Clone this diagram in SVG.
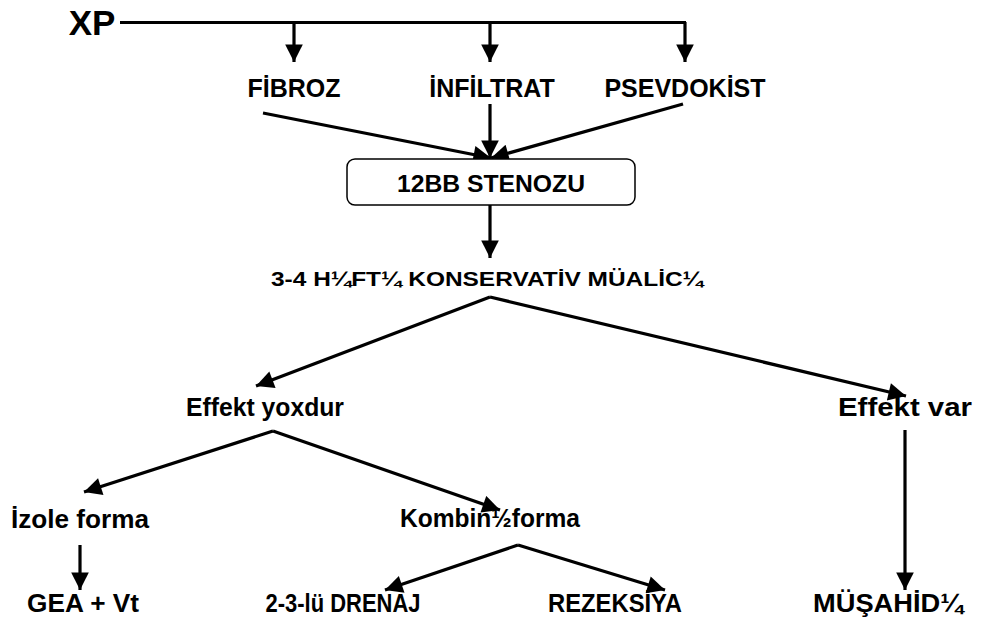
<svg xmlns="http://www.w3.org/2000/svg" width="981" height="628" viewBox="0 0 981 628">
<style>
text{font-family:"Liberation Sans",Arial,sans-serif;font-weight:bold;fill:#000;text-anchor:middle}
.l{font-size:25px}
.b{font-size:26px}
.c{stroke:#000;stroke-width:3.2;fill:none}
</style>
<defs>
<marker id="a" viewBox="0 0 10 10" refX="10" refY="5" markerWidth="6.5" markerHeight="5.5" markerUnits="strokeWidth" orient="auto"><path d="M0,0 L10,5 L0,10 z" fill="#000"/></marker>
</defs>
<rect width="981" height="628" fill="#fff"/>
<g id="connectors">
<path class="c" d="M120,22.5 H686"/>
<path class="c" d="M294,22 V62" marker-end="url(#a)"/>
<path class="c" d="M490,22 V62" marker-end="url(#a)"/>
<path class="c" d="M685,22 V62" marker-end="url(#a)"/>
<path class="c" d="M263,113 L491,158" marker-end="url(#a)"/>
<path class="c" d="M490,104 V158" marker-end="url(#a)"/>
<path class="c" d="M683,104 L491,158" marker-end="url(#a)"/>
<path class="c" d="M490,205 V258" marker-end="url(#a)"/>
<path class="c" d="M490,297 L256,386" marker-end="url(#a)"/>
<path class="c" d="M490,297 L906,396" marker-end="url(#a)"/>
<path class="c" d="M273,431 L84,492" marker-end="url(#a)"/>
<path class="c" d="M273,431 L500,510" marker-end="url(#a)"/>
<path class="c" d="M80,545 V590" marker-end="url(#a)"/>
<path class="c" d="M518,545 L385,590" marker-end="url(#a)"/>
<path class="c" d="M518,545 L665,590" marker-end="url(#a)"/>
<path class="c" d="M905,430 V590" marker-end="url(#a)"/>
</g>
<g id="xp"><text x="92" y="35" style="font-size:35px">XP</text></g>
<g id="fibroz"><text class="l" x="294" y="97">FİBROZ</text></g>
<g id="infiltrat"><text class="l" x="492" y="97">İNFİLTRAT</text></g>
<g id="psevdokist"><text class="l" x="685" y="97">PSEVDOKİST</text></g>
<g id="stenoz"><rect x="347" y="159" width="288" height="46" rx="8" fill="#fff" stroke="#000" stroke-width="1.5"/><text x="491" y="192" style="font-size:24px" textLength="188" lengthAdjust="spacingAndGlyphs">12BB STENOZU</text></g>
<g id="konservativ"><text x="487" y="286" style="font-size:20px" textLength="432" lengthAdjust="spacingAndGlyphs">3-4 H¼FT¼ KONSERVATİV MÜALİC¼</text></g>
<g id="yoxdur"><text class="l" x="265" y="416" textLength="158" lengthAdjust="spacingAndGlyphs">Effekt yoxdur</text></g>
<g id="var"><text class="l" x="905" y="416" textLength="134" lengthAdjust="spacingAndGlyphs">Effekt var</text></g>
<g id="izole"><text class="b" x="80" y="528" textLength="138" lengthAdjust="spacingAndGlyphs">İzole forma</text></g>
<g id="kombin"><text class="b" x="490" y="527" textLength="180" lengthAdjust="spacingAndGlyphs">Kombin½forma</text></g>
<g id="gea"><text class="b" x="83" y="612" textLength="112" lengthAdjust="spacingAndGlyphs">GEA + Vt</text></g>
<g id="drenaj"><text class="b" x="343" y="612" textLength="155" lengthAdjust="spacingAndGlyphs">2-3-lü DRENAJ</text></g>
<g id="rezeksiya"><text class="b" x="615" y="612" textLength="134" lengthAdjust="spacingAndGlyphs">REZEKSİYA</text></g>
<g id="musahid"><text class="b" x="888" y="612" textLength="150" lengthAdjust="spacingAndGlyphs">MÜŞAHİD¼</text></g>
</svg>
